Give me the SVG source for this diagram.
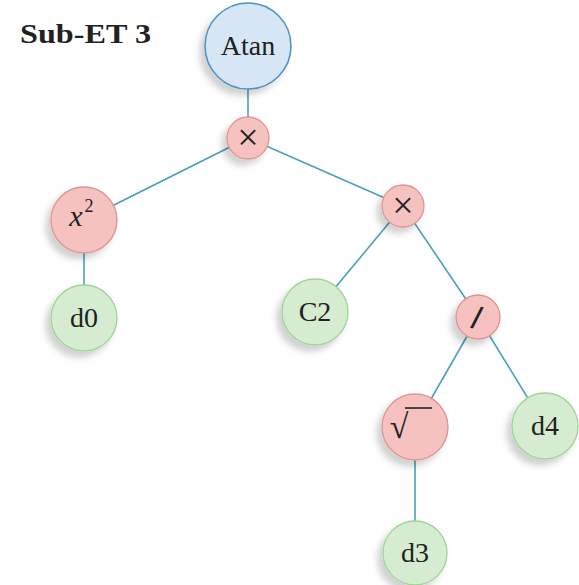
<svg xmlns="http://www.w3.org/2000/svg" width="579" height="585" viewBox="0 0 579 585">
<defs>
<filter id="sh" x="-40%" y="-40%" width="180%" height="180%">
<feDropShadow dx="-5" dy="6" stdDeviation="3" flood-color="#000" flood-opacity="0.18"/>
</filter>
<style>
.e{stroke:#4a9fc0;stroke-width:1.6;fill:none}
.b{fill:#d6e6f4;stroke:#4e90c2;stroke-width:1.5;filter:url(#sh)}
.r{fill:#f5c2bf;stroke:#dc9593;stroke-width:1.3;filter:url(#sh)}
.g{fill:#d5ecd1;stroke:#9dd497;stroke-width:1.3;filter:url(#sh)}
.t{font-family:"Liberation Serif",serif;font-size:28px;fill:#222;text-anchor:middle}
</style>
</defs>
<rect width="579" height="585" fill="#fff"/>
<text x="20" y="43" style="font-family:'Liberation Serif',serif;font-weight:bold;font-size:28px" fill="#222" textLength="131" lengthAdjust="spacingAndGlyphs">Sub-ET 3</text>
<g id="connectors">
<line class="e" x1="248" y1="46" x2="248" y2="138"/>
<line class="e" x1="248" y1="138" x2="84" y2="220"/>
<line class="e" x1="248" y1="138" x2="403" y2="206"/>
<line class="e" x1="84" y1="220" x2="84" y2="318"/>
<line class="e" x1="403" y1="206" x2="315" y2="312"/>
<line class="e" x1="403" y1="206" x2="478" y2="317"/>
<line class="e" x1="478" y1="317" x2="415" y2="427"/>
<line class="e" x1="478" y1="317" x2="545" y2="426"/>
<line class="e" x1="415" y1="427" x2="415" y2="553"/>
</g>
<g id="atan"><circle class="b" cx="248" cy="46" r="43"/><text class="t" x="248" y="55">Atan</text></g>
<g id="mul1"><circle class="r" cx="248" cy="138" r="21"/><text class="t" x="248" y="150" style="font-size:38px">×</text></g>
<g id="sq"><circle class="r" cx="84" cy="220" r="33"/><text class="t" x="76" y="226" style="font-size:30px;font-style:italic">x</text><text class="t" x="89" y="212" style="font-size:18px">2</text></g>
<g id="d0"><circle class="g" cx="84" cy="318" r="33"/><text class="t" x="84" y="327">d0</text></g>
<g id="mul2"><circle class="r" cx="403" cy="206" r="21"/><text class="t" x="403" y="218" style="font-size:38px">×</text></g>
<g id="c2"><circle class="g" cx="315" cy="312" r="33"/><text class="t" x="315" y="321">C2</text></g>
<g id="div"><circle class="r" cx="478" cy="317" r="22"/><text class="t" x="477" y="328" style="font-size:32px" stroke="#222" stroke-width="1.2" transform="rotate(8 477 317)">/</text></g>
<g id="sqrt"><circle class="r" cx="415" cy="427" r="33"/><text class="t" x="399" y="438" style="font-size:34px">√</text><line x1="405" y1="408" x2="432" y2="408" stroke="#222" stroke-width="1.6"/></g>
<g id="d4"><circle class="g" cx="545" cy="426" r="33"/><text class="t" x="545" y="435">d4</text></g>
<g id="d3"><circle class="g" cx="415" cy="553" r="32"/><text class="t" x="415" y="562">d3</text></g>
</svg>
